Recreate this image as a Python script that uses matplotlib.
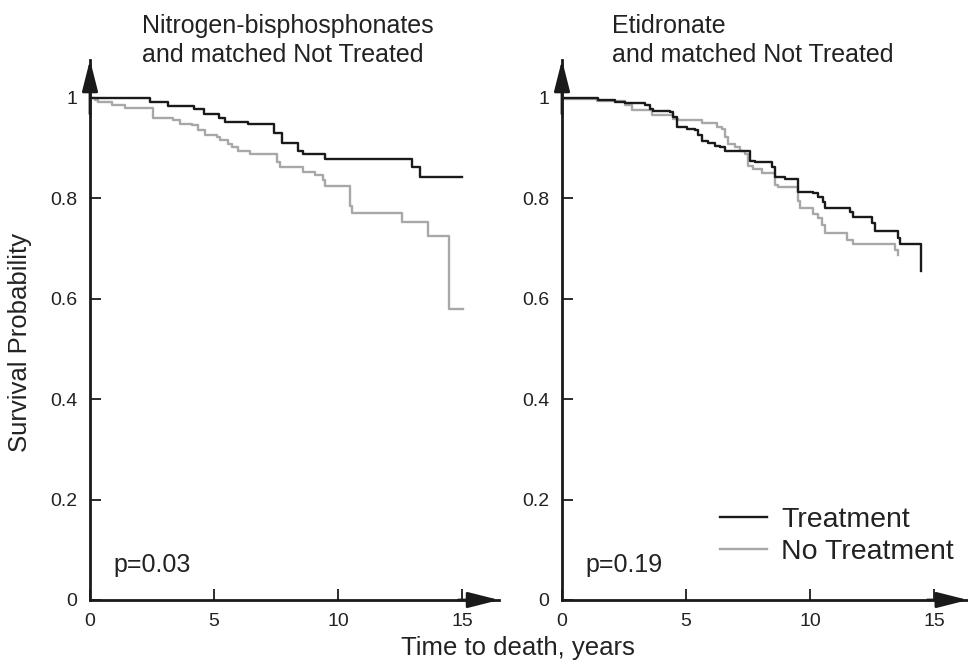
import numpy as np
import matplotlib
matplotlib.use("Agg")
import matplotlib.pyplot as plt

plt.rcParams['font.family'] = ['Liberation Sans', 'DejaVu Sans']

# Kaplan-Meier curves (time in years, survival)
nbp_trt_t = [0, 2.4, 3.16, 4.2, 4.6, 5.2, 5.45, 6.37, 7.4, 7.75, 8.4, 8.6, 9.48, 12.97, 13.3, 15.0]
nbp_trt_s = [1.0, 0.992, 0.985, 0.978, 0.968, 0.960, 0.953, 0.948, 0.931, 0.911, 0.895, 0.889, 0.878, 0.863, 0.842, 0.842]

nbp_not_t = [0, 0.2, 0.34, 0.87, 1.41, 2.55, 3.36, 3.63, 4.1, 4.37, 4.64, 5.11, 5.24, 5.58, 5.71, 5.98,
             6.45, 7.53, 7.66, 8.6, 9.07, 9.41, 9.48, 10.5, 10.55, 12.57, 13.64, 14.48, 15.03]
nbp_not_s = [1.0, 0.996, 0.993, 0.987, 0.980, 0.960, 0.956, 0.948, 0.946, 0.936, 0.926, 0.923, 0.916, 0.909, 0.903, 0.894,
             0.889, 0.872, 0.862, 0.853, 0.846, 0.836, 0.824, 0.785, 0.770, 0.752, 0.726, 0.580, 0.580]

eti_trt_t = [0, 1.46, 2.14, 2.54, 3.35, 3.55, 3.68, 4.35, 4.49, 4.62, 5.03, 5.36, 5.5, 5.63, 5.9, 6.17, 6.37, 6.57,
             7.45, 7.58, 7.78, 8.45, 8.59, 8.99, 9.53, 10.14, 10.34, 10.54, 10.6, 11.61, 11.75, 12.49, 12.62,
             13.56, 13.63, 14.48]
eti_trt_s = [1.0, 0.996, 0.993, 0.991, 0.986, 0.979, 0.975, 0.973, 0.963, 0.942, 0.939, 0.936, 0.926, 0.914, 0.910, 0.905, 0.902, 0.895,
             0.894, 0.875, 0.872, 0.863, 0.843, 0.839, 0.812, 0.810, 0.802, 0.792, 0.780, 0.772, 0.763, 0.751, 0.735,
             0.721, 0.709, 0.655]

eti_not_t = [0, 1.40, 2.41, 2.54, 2.81, 3.62, 4.49, 4.69, 5.63, 6.24, 6.44, 6.57, 6.71, 6.98, 7.18, 7.38, 7.51,
             7.72, 8.05, 8.59, 8.72, 9.53, 9.6, 10.14, 10.34, 10.47, 10.6, 11.48, 11.75, 13.43, 13.53]
eti_not_s = [0.999, 0.995, 0.994, 0.986, 0.977, 0.966, 0.959, 0.957, 0.951, 0.942, 0.939, 0.922, 0.909, 0.902, 0.895, 0.889, 0.865,
             0.859, 0.850, 0.827, 0.823, 0.795, 0.780, 0.768, 0.761, 0.748, 0.731, 0.718, 0.709, 0.698, 0.687]

titoli = ["Nitrogen-bisphosphonates\nand matched Not Treated", "Etidronate\nand matched Not Treated"]
pvalori = ["p=0.03", "p=0.19"]
xticks = [0, 5, 10, 15]
yticks = [0, 0.2, 0.4, 0.6, 0.8, 1.0]
yticklabels = ["0", "0.2", "0.4", "0.6", "0.8", "1"]

nero = '#1a1a1a'
grigio = '#a8a8a8'
testo = '#222222'

W, H = 968, 661
fig = plt.figure(figsize=(W / 100, H / 100), dpi=100)

ymax = 1.076
ax_h = ymax * 502 / H
ax_b = (H - 600) / H
ax1 = fig.add_axes([90 / W, ax_b, 16.5 * 24.8 / W, ax_h])
ax2 = fig.add_axes([562 / W, ax_b, 16.37 * 24.8 / W, ax_h])
xmaxs = [16.5, 16.37]
titolo_x = [142, 612]

curve = [(nbp_trt_t, nbp_trt_s, nbp_not_t, nbp_not_s), (eti_trt_t, eti_trt_s, eti_not_t, eti_not_s)]

for k, ax in enumerate([ax1, ax2]):
    tt, ts, nt, ns = curve[k]
    ax.step(nt, ns, where='post', color=grigio, lw=1.7, label='No Treatment')
    ax.step(tt, ts, where='post', color=nero, lw=1.7, label='Treatment')
    ax.set_xlim(0, xmaxs[k])
    ax.set_ylim(0, ymax)
    ax.spines['top'].set_visible(False)
    ax.spines['right'].set_visible(False)
    for lato in ['left', 'bottom']:
        ax.spines[lato].set_linewidth(2)
        ax.spines[lato].set_color(nero)
    # punte delle frecce
    ax.annotate('', xy=(1, 0), xytext=(0.9, 0), xycoords='axes fraction',
                arrowprops=dict(arrowstyle='-|>,head_length=0.95,head_width=0.24',
                                mutation_scale=20, lw=2, color=nero, shrinkA=0, shrinkB=0))
    ax.annotate('', xy=(0, 1), xytext=(0, 0.9), xycoords='axes fraction',
                arrowprops=dict(arrowstyle='-|>,head_length=0.95,head_width=0.24',
                                mutation_scale=20, lw=2, color=nero, shrinkA=0, shrinkB=0))
    ax.set_xticks(xticks)
    ax.set_yticks(yticks)
    ax.set_yticklabels(yticklabels)
    ax.tick_params(direction='in', length=8, width=1.3, color=nero, labelsize=14,
                   labelcolor=testo, pad=9)
    ax.text(0.93, 0.07, pvalori[k], fontsize=18, color=testo, va='center', ha='left')
    fig.text(titolo_x[k] / W, 1 - 14 / H, titoli[k], fontsize=18, color=testo,
             ha='left', va='top', linespacing=1.25)

h, l = ax2.get_legend_handles_labels()
ax2.legend(h[::-1], l[::-1], loc='upper left', bbox_to_anchor=(720 / W, 1 - 507 / H),
           bbox_transform=fig.transFigure, frameon=False, fontsize=20.5, handlelength=1.65,
           handletextpad=0.5, labelspacing=0.2, borderpad=0, borderaxespad=0, labelcolor=testo)

fig.text(20 / W, 1 - 343 / H, "Survival Probability", rotation=90, fontsize=18.5, color=testo,
         ha='center', va='center')
fig.text(518 / W, 1 - 648 / H, "Time to death, years", fontsize=18.5, color=testo,
         ha='center', va='center')

plt.savefig("out.png", dpi=100)
